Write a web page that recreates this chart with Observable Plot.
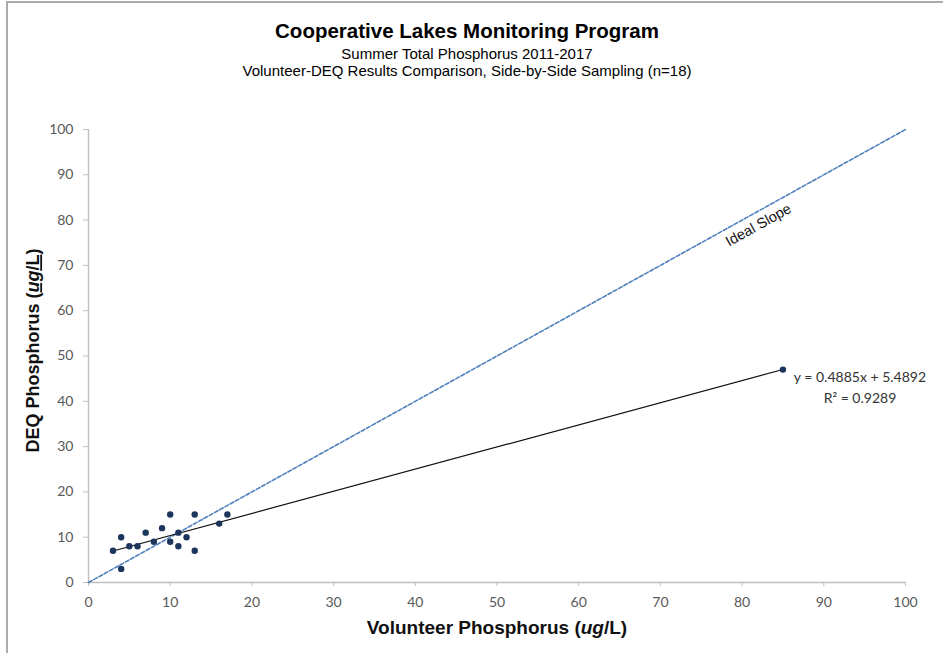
<!DOCTYPE html>
<html>
<head>
<meta charset="utf-8">
<script src="https://cdn.jsdelivr.net/npm/d3@7"></script>
<script src="https://cdn.jsdelivr.net/npm/@observablehq/plot@0.6"></script>
<style>
  html, body { margin: 0; padding: 0; background: #fff; width: 943px; height: 653px; overflow: hidden; }
  #wrap { position: relative; width: 943px; height: 653px; }
  #frame { position: absolute; left: 6px; top: 1px; width: 980px; height: 720px; border-left: 2px solid #ABABAB; border-top: 2px solid #ABABAB; box-sizing: border-box; pointer-events: none; }
  #header { position: relative; height: 90px; font-family: "Liberation Sans", Arial, sans-serif; color: #000; }
  .t { position: absolute; left: 0; width: 934px; text-align: center; white-space: pre; }
  #title { top: 21px; font-size: 20.5px; line-height: 20.5px; font-weight: bold; }
  #sub1 { top: 46px; font-size: 15px; line-height: 15px; }
  #sub2 { top: 62.5px; font-size: 15px; line-height: 15px; }
  #chart svg { display: block; }
</style>
</head>
<body>
<div id="wrap">
  <div id="header">
    <div class="t" id="title"></div>
    <div class="t" id="sub1"></div>
    <div class="t" id="sub2"></div>
  </div>
  <div id="chart"></div>
  <div id="frame"></div>
</div>
<script>
// ---- Text ----
const titleText = "Cooperative Lakes Monitoring Program";
const subtitle1 = "Summer Total Phosphorus 2011-2017";
const subtitle2 = "Volunteer-DEQ Results Comparison, Side-by-Side Sampling (n=18)";
const xTitle = "Volunteer Phosphorus (ug/L)";
const yTitle = "DEQ Phosphorus (ug/L)";
const idealLabel = ["Ideal Slope"];

// ---- Data ----
const volunteerP = [3, 4, 4, 5, 6, 7, 8, 9, 10, 10, 11, 11, 12, 13, 13, 16, 17, 85];
const deqP       = [7, 10, 3, 8, 8, 11, 9, 12, 15, 9, 11, 8, 10, 15, 7, 13, 15, 47];

// Ideal 1:1 line endpoints
const idealX = [0, 100];
const idealY = [0, 100];

// Trendline equation printed in the chart
const fitSlope = 0.4885;
const fitIntercept = 5.4892;
const fitR2 = 0.9289;

// Tick labels
const xTicks = [0, 10, 20, 30, 40, 50, 60, 70, 80, 90, 100];
const yTicks = [0, 10, 20, 30, 40, 50, 60, 70, 80, 90, 100];

// ---- Build tables ----
const points = volunteerP.map((v, i) => ({x: v, y: deqP[i]}));
const ideal = idealX.map((v, i) => ({x: v, y: idealY[i]}));
const eqText = `y = ${fitSlope}x + ${fitIntercept}\nR² = ${fitR2}`;

document.getElementById("title").textContent = titleText;
document.getElementById("sub1").textContent = subtitle1;
document.getElementById("sub2").textContent = subtitle2;

const axisGray = "#BFBFBF";
const tickText = "#595959";
const arial = "'Liberation Sans', Arial, sans-serif";

const chart = Plot.plot({
  width: 943,
  height: 563,
  marginLeft: 88,
  marginRight: 38,
  marginTop: 39,
  marginBottom: 71,
  style: { fontFamily: "Lato, 'Open Sans', sans-serif", background: "transparent", color: "#000" },
  x: { domain: [0, 100] },
  y: { domain: [0, 100] },
  marks: [
    Plot.ruleY([0], { stroke: axisGray, strokeWidth: 1.4 }),
    Plot.ruleX([0], { stroke: axisGray, strokeWidth: 1.4 }),
    Plot.axisX({ ticks: xTicks, tickSize: 4, tickPadding: 11, stroke: axisGray, fill: tickText, fontSize: 14, label: null }),
    Plot.axisY({ ticks: yTicks, tickSize: 5, tickPadding: 10, stroke: axisGray, fill: tickText, fontSize: 14, label: null }),
    Plot.line(ideal, { x: "x", y: "y", stroke: "#4F81BD", strokeWidth: 1.6, strokeDasharray: "4,2" }),
    Plot.linearRegressionY(points, { x: "x", y: "y", ci: 0, stroke: "#111", strokeWidth: 1.2 }),
    Plot.dot(points, { x: "x", y: "y", r: 3.2, fill: "#1B355C", stroke: "none" }),
    Plot.text(idealLabel, { x: () => 82, y: () => 82, text: d => d, rotate: -29, dy: 14, fontSize: 14.5, fontFamily: arial, fill: "#111" }),
    Plot.text(points, Plot.selectMaxX({ x: "x", y: "y", text: () => eqText, dx: 77, dy: 16, fontSize: 14, lineHeight: 1.5, fill: "#333", textAnchor: "middle" })),
    Plot.text([xTitle], { frameAnchor: "bottom", dy: 51, fontSize: 19, fontWeight: "bold", fontFamily: arial, fill: "#111" }),
    Plot.text([yTitle], { frameAnchor: "left", textAnchor: "middle", rotate: -90, dx: -55, dy: -5.5, fontSize: 18, fontWeight: "bold", fontFamily: arial, fill: "#111" })
  ]
});
document.getElementById("chart").appendChild(chart);

// Rich formatting for axis titles: italic "ug", underline on y title units
const NS = "http://www.w3.org/2000/svg";
function tspan(txt, attrs) {
  const t = document.createElementNS(NS, "tspan");
  if (txt != null) t.textContent = txt;
  for (const k in attrs || {}) t.setAttribute(k, attrs[k]);
  return t;
}
chart.querySelectorAll("text").forEach(el => {
  if (el.textContent === xTitle) {
    el.textContent = "";
    el.appendChild(tspan("Volunteer Phosphorus ("));
    el.appendChild(tspan("ug", { "font-style": "italic" }));
    el.appendChild(tspan("/L)"));
  } else if (el.textContent === yTitle) {
    el.textContent = "";
    el.appendChild(tspan("DEQ Phosphorus ("));
    el.appendChild(tspan("ug", { "font-style": "italic", "text-decoration": "underline" }));
    el.appendChild(tspan("/L", { "text-decoration": "underline" }));
    el.appendChild(tspan(")"));
  }
});
</script>
</body>
</html>
